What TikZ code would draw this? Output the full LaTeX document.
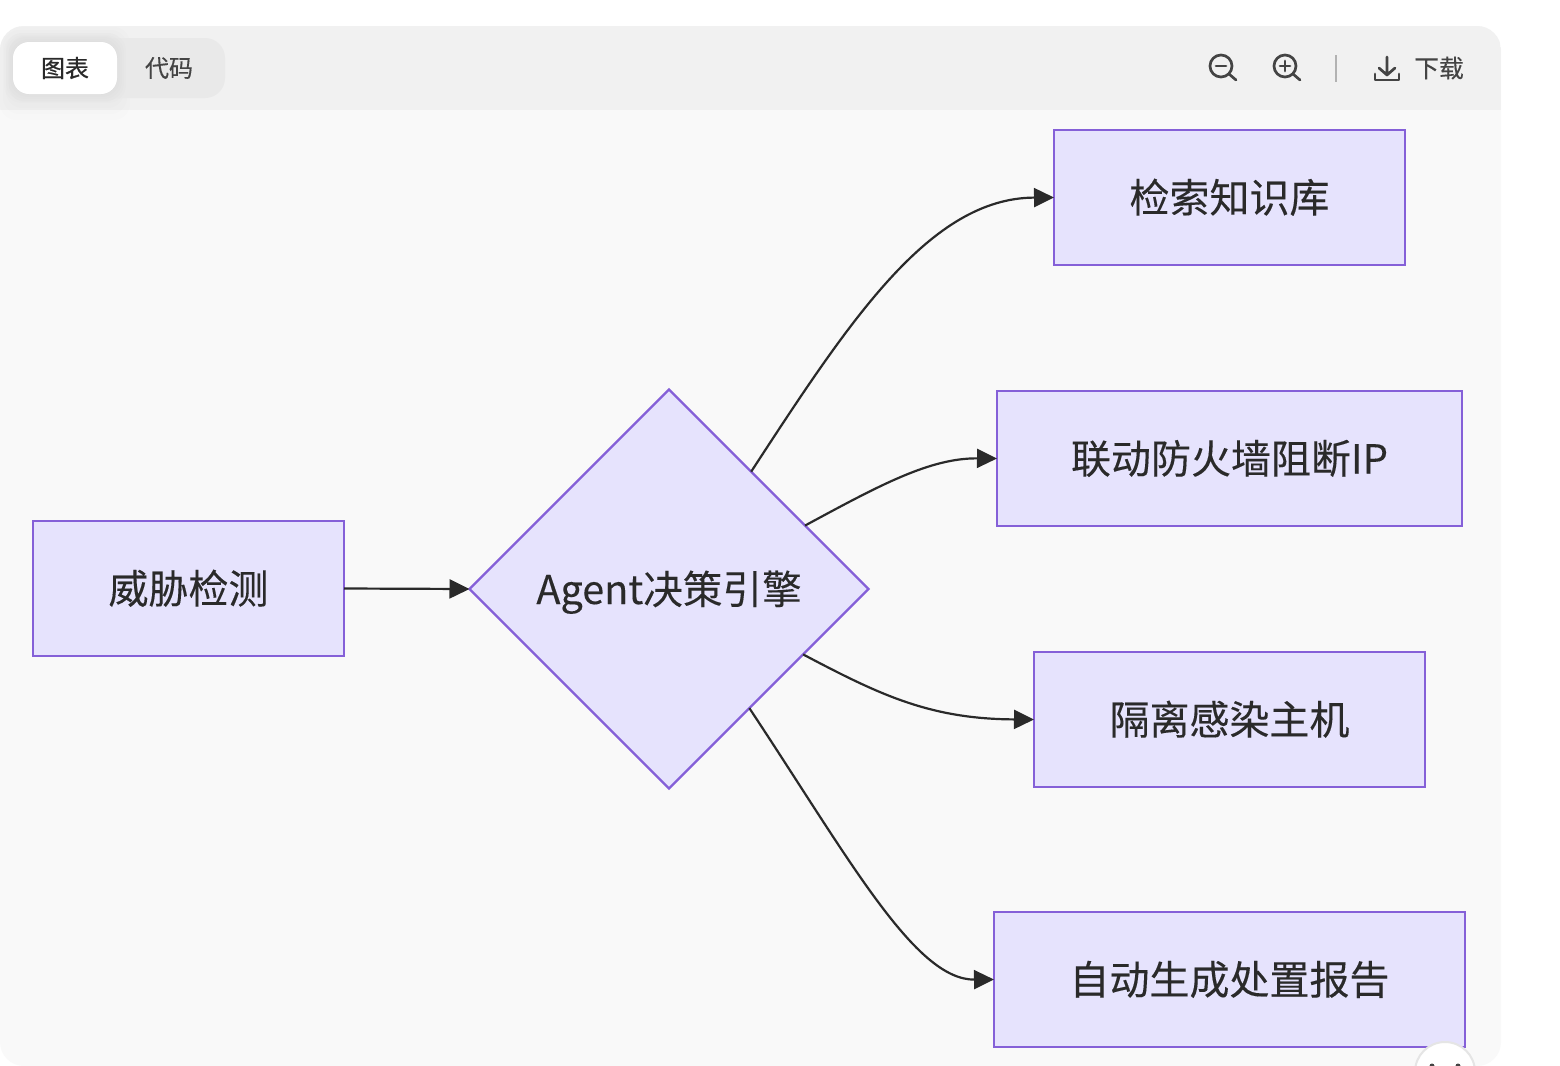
\documentclass[tikz,border=0pt]{standalone}
\usepackage{fontspec}
\setmainfont{Noto Sans CJK SC}
\newfontfamily\nodefont[FakeBold=0.2]{Noto Sans CJK SC}
\newfontfamily\tabfont[FakeBold=0.6]{Noto Sans CJK SC}
\newfontfamily\barfont[FakeBold=0.25]{Noto Sans CJK SC}
\usetikzlibrary{shapes.geometric,arrows.meta}
\definecolor{nodefill}{HTML}{E6E3FD}
\definecolor{nodeline}{HTML}{8560D8}
\definecolor{inkdark}{HTML}{2A2A2A}
\definecolor{panelbg}{HTML}{F9F9F9}
\definecolor{barbg}{HTML}{F1F1F1}
\definecolor{tabbg}{HTML}{E9E9E9}
\definecolor{iconink}{HTML}{444444}
\tikzset{
  flowbox/.style={rectangle,draw=nodeline,fill=nodefill,line width=1.35pt,inner sep=0pt,outer sep=0pt,text=inkdark,text height=15pt,text depth=0pt,font=\nodefont\fontsize{20pt}{24pt}\selectfont},
  decide/.style={diamond,aspect=1,draw=nodeline,fill=nodefill,line width=1.2pt,inner sep=0pt,outer sep=0pt,minimum width=199.5pt,minimum height=199.5pt,text=inkdark,text height=15pt,text depth=0pt,font=\nodefont\fontsize{19.8pt}{24pt}\selectfont},
  link/.style={draw=inkdark,line width=1.1pt,-{Triangle[length=10pt,width=9.5pt,fill=inkdark]}},
  barlabel/.style={inner sep=0pt,font=\barfont\fontsize{12.4pt}{14pt}\selectfont},
  icon/.style={draw=iconink,line width=1.35pt,line cap=round,line join=round}
}
\begin{document}
\begin{tikzpicture}[x=0.5pt,y=-0.5pt]
\useasboundingbox (0,0) rectangle (1560,1066);
\fill[white] (0,0) rectangle (1560,1066);
% panel
\fill[panelbg,rounded corners=12pt] (0,26) rectangle (1501,1066);
\begin{scope}
\clip[rounded corners=12pt] (0,26) rectangle (1501,1066);
\fill[barbg] (0,26) rectangle (1501,110);
\foreach \g in {0,3,6,9}{
  \fill[black,opacity=0.008,rounded corners=8pt] (9-\g,36-\g) rectangle (121+\g,102+2*\g);
}
\end{scope}
% tabs
\fill[tabbg,rounded corners=10pt] (9,38) rectangle (225,98);
\foreach \g in {1,3,5,7,9}{
  \fill[black,opacity=0.008,rounded corners=9pt] (13-\g,42-\g) rectangle (117+\g,94+\g);
}
\fill[white,rounded corners=8pt] (13,42) rectangle (117,94);
\node[barlabel,text=inkdark,font=\tabfont\fontsize{12pt}{14pt}\selectfont] (tabchart) at (65,68) {图表};
\node[barlabel,text=iconink,font=\barfont\fontsize{12pt}{14pt}\selectfont] (tabcode) at (169,68) {代码};
% zoom out icon
\draw[icon] (1221,66) circle[radius=11];
\draw[icon] (1216,66) -- (1226,66);
\draw[icon] (1229,74) -- (1236,80);
% zoom in icon
\draw[icon] (1285,66) circle[radius=11];
\draw[icon] (1280,66) -- (1290,66) (1285,61) -- (1285,71);
\draw[icon] (1293,74) -- (1300,80);
% divider
\draw[black!30,line width=1pt] (1336,55) -- (1336,82);
% download icon
\draw[icon] (1387,57) -- (1387,75) (1379,68) -- (1387,75) -- (1395,68);
\draw[icon] (1375,74) -- (1375,80) -- (1399,80) -- (1399,74);
\node[barlabel,text=iconink] (dl) at (1439,68) {下载};
% nodes
\node[flowbox,minimum width=155.5pt,minimum height=67.5pt] (threat) at (188.5,588.5) {威胁检测};
\node[decide] (engine) at (669,589) {Agent决策引擎};
\node[flowbox,minimum width=175.5pt,minimum height=67.5pt] (search) at (1229.5,197.5) {检索知识库};
\node[flowbox,minimum width=232.5pt,minimum height=67.5pt] (firewall) at (1229.5,458.5) {联动防火墙阻断IP};
\node[flowbox,minimum width=195.5pt,minimum height=67.5pt] (isolate) at (1229.5,719.5) {隔离感染主机};
\node[flowbox,minimum width=235.5pt,minimum height=67.5pt] (report) at (1229.5,979.5) {自动生成处置报告};
% connectors
\draw[link] (threat.east) -- (engine.west);
\draw[link] (engine.55.6) .. controls (850,320) and (930,198) .. (search.west);
\draw[link] (engine.25.9) .. controls (880,485) and (930,458) .. (firewall.west);
\draw[link] (engine.-26.4) .. controls (880,695) and (930,719) .. (isolate.west);
\draw[link] (engine.-56) .. controls (850,860) and (915,980) .. (report.west);
% floating round button, cut by the page
\begin{scope}
\clip (0,0) rectangle (1560,1066);
\fill[white] (1445,1072) circle[radius=30];
\draw[black!10,line width=1pt] (1445,1072) circle[radius=30];
\fill[iconink] (1432,1066) circle[radius=2.5] (1458,1066) circle[radius=2.5];
\end{scope}
\end{tikzpicture}
\end{document}
